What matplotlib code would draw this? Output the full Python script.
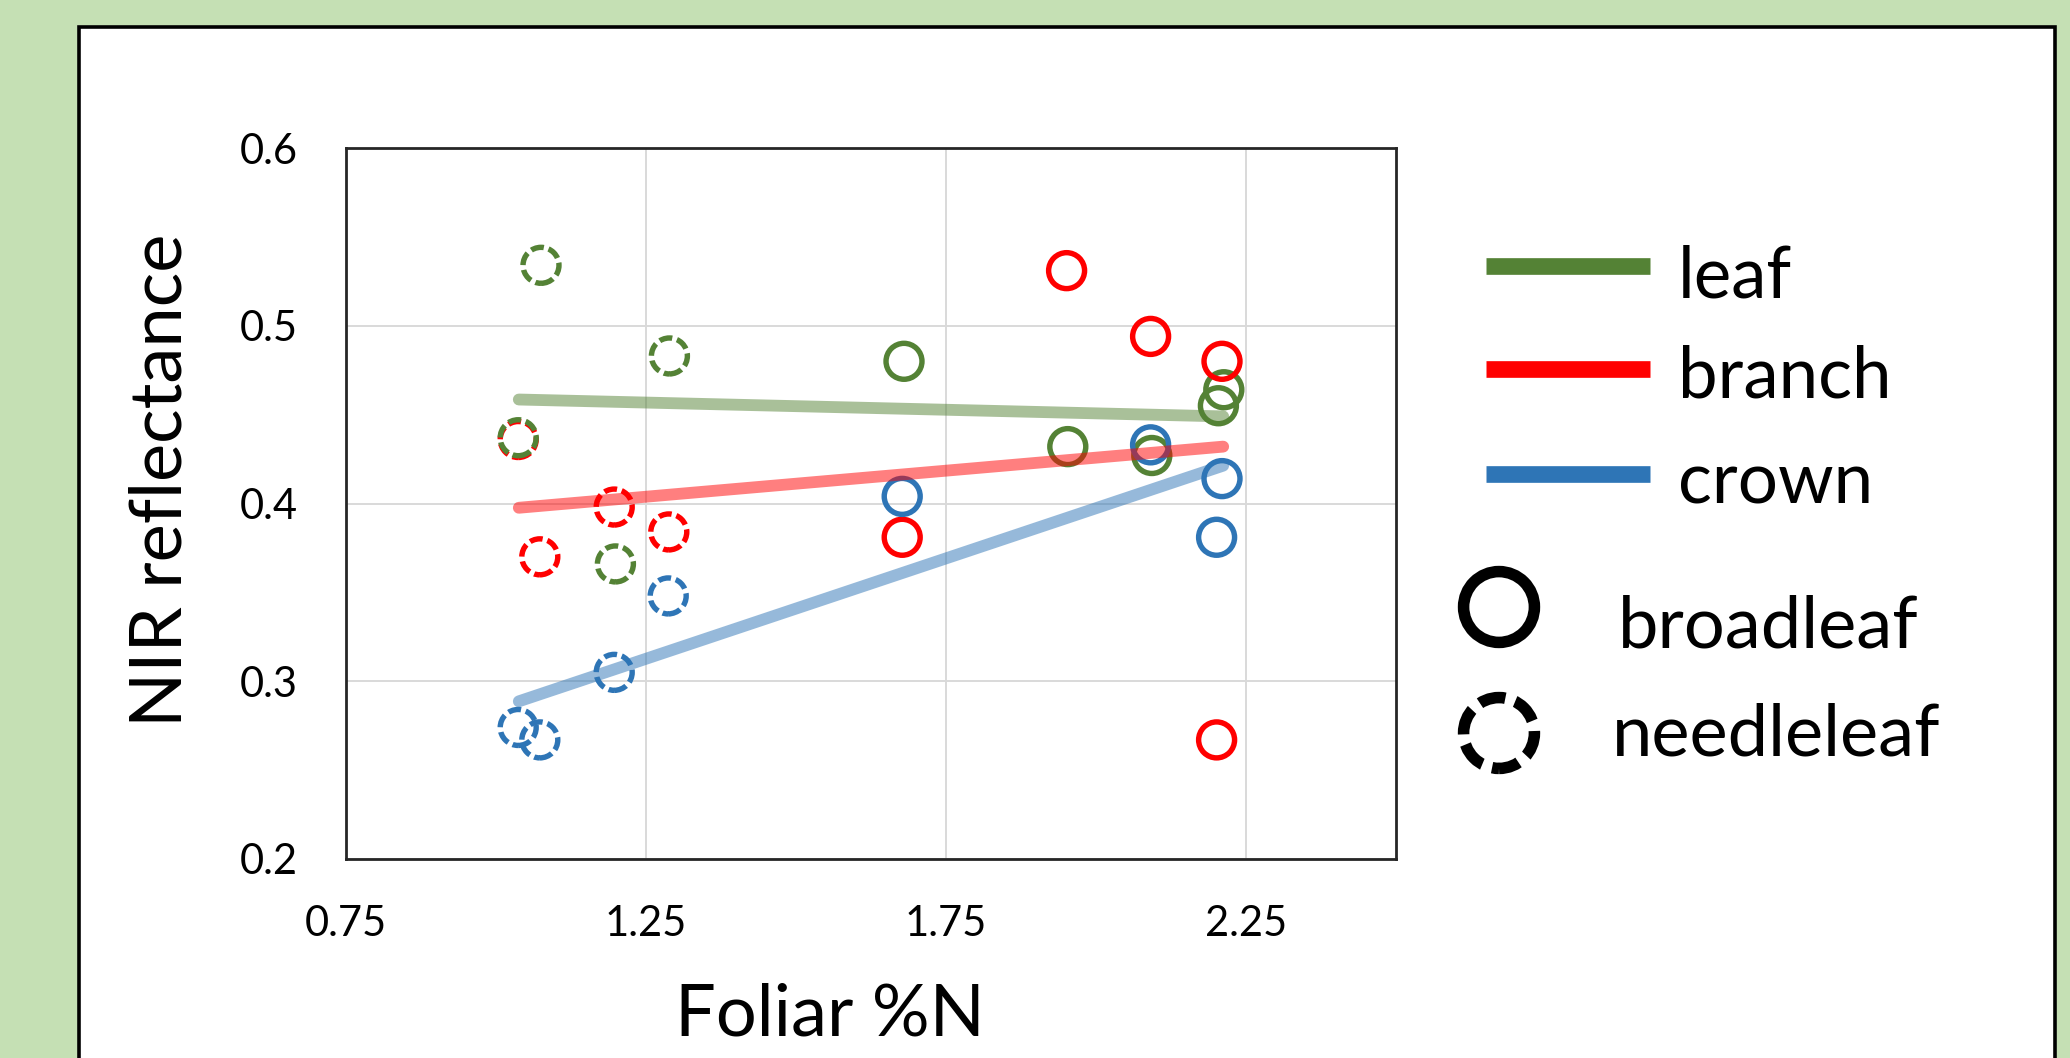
#!/usr/bin/env python3
import matplotlib
matplotlib.use("Agg")
import matplotlib.pyplot as plt
from matplotlib.patches import Rectangle

plt.rcParams["font.family"] = ["Lato", "DejaVu Sans"]

# foliar %N and NIR reflectance, by component and leaf type
leaf_broad_x = [1.680, 1.953, 2.093, 2.213, 2.204]
leaf_broad_y = [0.480, 0.432, 0.427, 0.464, 0.455]
leaf_needle_x = [1.075, 1.289, 1.037, 1.199]
leaf_needle_y = [0.534, 0.483, 0.437, 0.366]

branch_broad_x = [1.677, 1.951, 2.091, 2.210, 2.201]
branch_broad_y = [0.381, 0.531, 0.494, 0.480, 0.267]
branch_needle_x = [1.037, 1.197, 1.288, 1.073]
branch_needle_y = [0.436, 0.398, 0.384, 0.370]

crown_broad_x = [1.677, 2.091, 2.210, 2.201]
crown_broad_y = [0.404, 0.433, 0.414, 0.381]
crown_needle_x = [1.287, 1.197, 1.037, 1.073]
crown_needle_y = [0.348, 0.305, 0.274, 0.267]

# linear trend lines (end points)
trend_x = [1.038, 2.212]
leaf_trend_y = [0.4585, 0.4490]
branch_trend_y = [0.3976, 0.4320]
crown_trend_y = [0.2887, 0.4213]

x_ticks = [0.75, 1.25, 1.75, 2.25]
y_ticks = [0.2, 0.3, 0.4, 0.5, 0.6]

GREEN = "#548235"
RED = "#ff0000"
BLUE = "#2e75b6"
DASH = (0, (2.4, 0.9))

W, H = 2070, 1058
fig = plt.figure(figsize=(W / 100, H / 100), dpi=100, facecolor="#c5e0b4")

# overlay in pixel coordinates for panel and hand-made legend
bg = fig.add_axes([0, 0, 1, 1], zorder=-1)
bg.set_xlim(0, W)
bg.set_ylim(H, 0)
bg.axis("off")
bg.add_patch(Rectangle((79, 27), 2055 - 79, 1100, facecolor="white",
                       edgecolor="black", linewidth=2.6))

ax = fig.add_axes([346 / W, 199 / H, 1050 / W, 711 / H])
ax.set_facecolor("white")

series = [
    (leaf_broad_x, leaf_broad_y, GREEN, "solid"),
    (branch_broad_x, branch_broad_y, RED, "solid"),
    (crown_broad_x, crown_broad_y, BLUE, "solid"),
    (branch_needle_x, branch_needle_y, RED, DASH),
    (leaf_needle_x, leaf_needle_y, GREEN, DASH),
    (crown_needle_x, crown_needle_y, BLUE, DASH),
]
for x, y, c, ls in series:
    ax.scatter(x, y, s=670, facecolors="none", edgecolors=c,
               linewidths=3.9, linestyles=[ls], zorder=3)

for ty, c in [(leaf_trend_y, GREEN), (branch_trend_y, RED), (crown_trend_y, BLUE)]:
    ax.plot(trend_x, ty, color=c, alpha=0.5, linewidth=8.5,
            solid_capstyle="round", zorder=4)

ax.set_xlim(0.75, 2.5)
ax.set_ylim(0.2, 0.6)
ax.set_xticks(x_ticks)
ax.set_xticklabels([f"{v:.2f}" for v in x_ticks])
ax.set_yticks(y_ticks)
ax.set_yticklabels([f"{v:.1f}" for v in y_ticks])
ax.tick_params(length=0, labelsize=30, colors="black")
ax.tick_params(axis="x", pad=33)
ax.tick_params(axis="y", pad=35)
ax.grid(True, color="#d9d9d9", linewidth=1.4, zorder=0)
ax.set_axisbelow(True)
for sp in ax.spines.values():
    sp.set_color("#262626")
    sp.set_linewidth(2.0)

ax.set_xlabel("Foliar %N", fontsize=52, va="baseline", ha="center")
ax.xaxis.set_label_coords((830 - 346) / 1050, (23 - 199) / 711)
ax.set_ylabel("NIR reflectance", fontsize=52, rotation_mode="anchor",
              va="baseline", ha="center")
ax.yaxis.set_label_coords((182 - 346) / 1050, (1058 - 480 - 199) / 711)

# legend
for yy, c, name, base in [(266, GREEN, "leaf", 297), (369, RED, "branch", 398),
                          (474, BLUE, "crown", 504)]:
    bg.plot([1486, 1650], [yy, yy], color=c, linewidth=12, solid_capstyle="butt")
    bg.text(1678, base, name, fontsize=51, va="baseline", ha="left")

bg.scatter([1499], [607], s=51 ** 2, facecolors="none", edgecolors="black",
           linewidths=8.3)
bg.text(1618, 647, "broadleaf", fontsize=52, va="baseline", ha="left")
bg.scatter([1499], [733], s=51 ** 2, facecolors="none", edgecolors="black",
           linewidths=8.3, linestyles=[(0.5, (2.3, 0.9))])
bg.text(1612, 756, "needleleaf", fontsize=52, va="baseline", ha="left")

fig.savefig("out.png", dpi=100, facecolor=fig.get_facecolor())
